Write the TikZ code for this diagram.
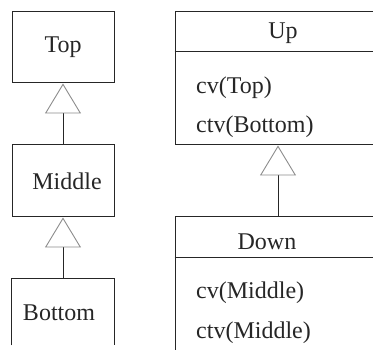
\documentclass[tikz,border=0pt]{standalone}
\usepackage{fontspec}
\setmainfont{Liberation Serif}
\newfontfamily\lserif{Liberation Serif}
\usetikzlibrary{arrows.meta}
\begin{document}
\begin{tikzpicture}[x=1pt,y=-1pt,
  box/.style={draw=black!85, line width=1pt, minimum width=102pt, inner sep=0pt},
  lbl/.style={font=\lserif\fontsize{24}{28}\selectfont, text=black!85, inner sep=0pt},
  gen/.style={draw=black!85, line width=1pt, -{Triangle[open, length=30pt, width=36pt, color=black!45, line width=0.9pt]}},
  rule/.style={draw=black!85, line width=1pt}]
\useasboundingbox (0,0) rectangle (373,350);
\clip (0,0) rectangle (373,350);
% left column
\node[box, minimum height=71pt] (top) at (63,47.5) {};
\node[box, minimum height=72pt] (middle) at (63,181) {};
\node[box, draw=none, minimum height=66pt] (bottom) at (63,312) {};
\draw[rule] (bottom.south west) -- (bottom.north west) -- (bottom.north east) -- (bottom.south east);
\node[lbl] (toplbl) at (63,47) {Top};
\node[lbl] (midlbl) at (67,181) {Middle};
\node[lbl] (botlbl) at (59,313) {Bottom};
\draw[gen] (middle.north) -- (top.south);
\draw[gen] (bottom.north) -- (middle.south);
% right column
\node[box, minimum width=206pt, minimum height=133pt] (up) at (278,78.5) {};
\node[box, minimum width=206pt, minimum height=143pt] (down) at (278,288.5) {};
\draw[rule] (up.west |- 0,52) -- (up.east |- 0,52);
\draw[rule] (down.west |- 0,258) -- (down.east |- 0,258);
\node[lbl] (uplbl) at (283,33) {Up};
\node[lbl, anchor=west] (upa) at (196,88) {cv(Top)};
\node[lbl, anchor=west] (upb) at (196,127) {ctv(Bottom)};
\node[lbl] (downlbl) at (267,242) {Down};
\node[lbl, anchor=west] (downa) at (196,293) {cv(Middle)};
\node[lbl, anchor=west] (downb) at (196,333) {ctv(Middle)};
\draw[gen] (down.north) -- (up.south);
\end{tikzpicture}
\end{document}
